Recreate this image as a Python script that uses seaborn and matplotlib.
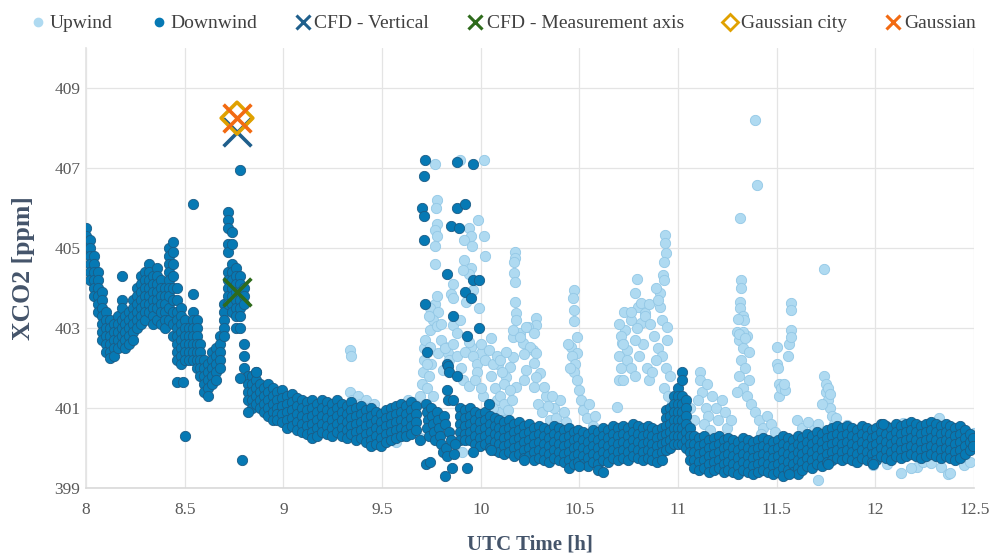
import matplotlib
matplotlib.use("Agg")
import matplotlib.pyplot as plt
from matplotlib.lines import Line2D
import seaborn as sns
import pandas as pd

# ---------------------------------------------------------------------------
# Downwind XCO2 [ppm]: (UTC hour, [values observed around that hour])
# ---------------------------------------------------------------------------
downwind_columns = [
    (8.00, [405.5, 405.3, 405.1, 404.9]),
    (8.02, [405.2, 405.0, 404.8, 404.6, 404.4, 404.2]),
    (8.04, [404.8, 404.6, 404.4, 404.2, 404.0, 403.8]),
    (8.06, [404.4, 404.2, 404.0, 403.8, 403.6, 403.4]),
    (8.08, [403.9, 403.7, 403.5, 403.3, 403.1, 402.9, 402.7]),
    (8.10, [403.4, 403.2, 403.0, 402.8, 402.6, 402.4]),
    (8.12, [403.2, 403.0, 402.8, 402.6, 402.4, 402.25]),
    (8.14, [403.1, 402.9, 402.7, 402.5, 402.3]),
    (8.16, [403.3, 403.1, 402.9, 402.7, 402.5]),
    (8.18, [403.7, 403.5, 403.2, 403.0, 402.8, 402.6]),
    (8.20, [403.3, 403.1, 402.9, 402.7, 402.5]),
    (8.22, [403.4, 403.2, 403.0, 402.8, 402.6]),
    (8.24, [403.7, 403.5, 403.3, 403.1, 402.9, 402.7]),
    (8.26, [404.0, 403.8, 403.6, 403.4, 403.2, 403.0]),
    (8.28, [404.3, 404.1, 403.9, 403.7, 403.5, 403.3, 403.1]),
    (8.30, [404.4, 404.2, 404.0, 403.8, 403.6, 403.4, 403.2]),
    (8.32, [404.6, 404.4, 404.2, 404.0, 403.8, 403.6, 403.4]),
    (8.34, [404.3, 404.1, 403.9, 403.7, 403.5, 403.3, 403.1]),
    (8.36, [404.5, 404.3, 404.1, 403.9, 403.7, 403.5, 403.2]),
    (8.38, [404.2, 404.0, 403.8, 403.6, 403.4, 403.1]),
    (8.40, [404.0, 403.8, 403.6, 403.4, 403.2, 403.0]),
    (8.42, [405.0, 404.8, 404.6, 404.4, 404.2, 404.0, 403.8, 403.5, 403.2]),
    (8.44, [405.15, 404.9, 404.6, 404.3, 404.0, 403.7, 403.4, 403.1, 402.8]),
    (8.46, [404.0, 403.7, 403.4, 403.2, 403.0, 402.8, 402.6, 402.4, 402.2]),
    (8.48, [403.5, 403.3, 403.1, 402.9, 402.7, 402.5, 402.3, 402.1]),
    (8.50, [403.2, 403.0, 402.8, 402.6, 402.4, 402.2]),
    (8.52, [403.0, 402.8, 402.6, 402.4, 402.2]),
    (8.54, [403.4, 403.2, 403.0, 402.8, 402.6, 402.4, 402.2]),
    (8.56, [403.2, 403.0, 402.8, 402.6, 402.4, 402.2, 402.0]),
    (8.58, [402.6, 402.4, 402.2, 402.0, 401.8]),
    (8.60, [402.2, 402.0, 401.8, 401.6, 401.4]),
    (8.62, [402.1, 401.9, 401.7, 401.5, 401.3]),
    (8.64, [402.4, 402.2, 402.0, 401.8, 401.6]),
    (8.66, [402.5, 402.3, 402.1, 401.9, 401.7]),
    (8.68, [402.8, 402.6, 402.4, 402.2, 402.0]),
    (8.70, [403.6, 403.4, 403.2, 403.0, 402.8]),
    (8.72, [405.9, 405.7, 405.5, 405.1, 404.9, 404.4, 404.2, 404.0, 403.8, 403.6]),
    (8.74, [405.4, 405.1, 404.6, 404.4, 404.2, 404.0, 403.8, 403.6, 403.4]),
    (8.76, [404.5, 404.3, 404.1, 403.9, 403.7, 403.5, 403.3, 403.0]),
    (8.78, [404.3, 404.1, 403.9, 403.7, 403.5, 403.3, 403.0]),
    (8.80, [404.0, 403.8, 403.6, 402.6, 402.3, 402.0]),
    (8.82, [401.8, 401.6, 401.4, 401.2]),
    (8.84, [401.8, 401.6, 401.4, 401.2, 401.0]),
    (8.86, [401.9, 401.7, 401.5, 401.3, 401.1]),
    (8.88, [401.6, 401.4, 401.2, 401.0]),
    (8.90, [401.5, 401.3, 401.1, 400.9]),
    (8.92, [401.6, 401.4, 401.2, 401.0, 400.8]),
    (8.945, [401.5, 401.3, 401.1, 400.9, 400.7]),
    (8.97, [401.4, 401.2, 401.0, 400.85, 400.7]),
    (8.995, [401.45, 401.25, 401.05, 400.85, 400.65]),
    (9.02, [401.3, 401.1, 400.9, 400.7, 400.5]),
    (9.045, [401.35, 401.15, 400.95, 400.75, 400.55]),
    (9.07, [401.25, 401.05, 400.85, 400.65, 400.45]),
    (9.095, [401.2, 401.0, 400.8, 400.6, 400.4]),
    (9.12, [401.15, 400.95, 400.75, 400.55, 400.35]),
    (9.145, [401.2, 401.0, 400.8, 400.6, 400.4, 400.25]),
    (9.17, [401.1, 400.9, 400.7, 400.5, 400.3]),
    (9.195, [401.2, 401.0, 400.8, 400.6, 400.4]),
    (9.22, [401.15, 400.95, 400.75, 400.55, 400.35]),
    (9.245, [401.1, 400.9, 400.7, 400.5, 400.3]),
    (9.27, [401.2, 401.0, 400.8, 400.6, 400.4]),
    (9.295, [401.1, 400.9, 400.7, 400.5, 400.3]),
    (9.32, [401.05, 400.85, 400.65, 400.45, 400.25]),
    (9.345, [401.15, 400.95, 400.75, 400.55, 400.35]),
    (9.37, [401.0, 400.8, 400.6, 400.4, 400.2]),
    (9.395, [401.05, 400.85, 400.65, 400.45, 400.25]),
    (9.42, [400.95, 400.75, 400.55, 400.35, 400.15]),
    (9.445, [401.0, 400.8, 400.6, 400.4, 400.2, 400.05]),
    (9.47, [400.9, 400.7, 400.5, 400.3, 400.1]),
    (9.495, [400.85, 400.65, 400.45, 400.25, 400.05]),
    (9.52, [400.95, 400.75, 400.55, 400.35, 400.15]),
    (9.545, [401.0, 400.8, 400.6, 400.4, 400.2]),
    (9.57, [401.05, 400.85, 400.65, 400.45, 400.25]),
    (9.595, [401.1, 400.9, 400.7, 400.5, 400.3]),
    (9.62, [401.05, 400.85, 400.65, 400.45, 400.3]),
    (9.645, [401.15, 400.95, 400.75, 400.55, 400.35]),
    (9.67, [401.05, 400.85, 400.65, 400.45]),
    (9.895, [401.0, 400.8, 400.6, 400.4, 400.2]),
    (9.92, [400.95, 400.75, 400.55, 400.35, 400.2]),
    (9.945, [401.0, 400.8, 400.6, 400.4, 400.2]),
    (9.97, [400.9, 400.7, 400.5, 400.3, 400.1]),
    (9.995, [400.85, 400.65, 400.45, 400.25, 400.05]),
    (10.02, [400.9, 400.7, 400.5, 400.3, 400.1]),
    (10.045, [400.8, 400.6, 400.4, 400.2, 400.0]),
    (10.07, [400.75, 400.55, 400.35, 400.15, 399.95]),
    (10.095, [400.7, 400.5, 400.3, 400.1, 399.9]),
    (10.12, [400.65, 400.45, 400.25, 400.05, 399.85]),
    (10.145, [400.7, 400.5, 400.3, 400.1, 399.9]),
    (10.17, [400.6, 400.4, 400.2, 400.0, 399.8]),
    (10.195, [400.65, 400.45, 400.25, 400.05, 399.85]),
    (10.22, [400.55, 400.35, 400.15, 399.95, 399.75]),
    (10.245, [400.6, 400.4, 400.2, 400.0, 399.8]),
    (10.27, [400.5, 400.3, 400.1, 399.9, 399.7]),
    (10.295, [400.55, 400.35, 400.15, 399.95, 399.75]),
    (10.32, [400.5, 400.3, 400.1, 399.9, 399.7]),
    (10.345, [400.45, 400.25, 400.05, 399.85, 399.65]),
    (10.37, [400.55, 400.35, 400.15, 399.95, 399.75]),
    (10.395, [400.5, 400.3, 400.1, 399.9, 399.7]),
    (10.42, [400.45, 400.25, 400.05, 399.85, 399.65]),
    (10.445, [400.5, 400.3, 400.1, 399.9, 399.7, 399.5]),
    (10.47, [400.4, 400.2, 400.0, 399.8, 399.6]),
    (10.495, [400.45, 400.25, 400.05, 399.85, 399.65]),
    (10.52, [400.4, 400.2, 400.0, 399.8, 399.6]),
    (10.545, [400.35, 400.15, 399.95, 399.75, 399.55]),
    (10.57, [400.45, 400.25, 400.05, 399.85, 399.65]),
    (10.595, [400.4, 400.2, 400.0, 399.8, 399.6, 399.45]),
    (10.62, [400.5, 400.3, 400.1, 399.9, 399.7]),
    (10.645, [400.45, 400.25, 400.05, 399.85, 399.65]),
    (10.67, [400.55, 400.35, 400.15, 399.95, 399.75]),
    (10.695, [400.5, 400.3, 400.1, 399.9, 399.7]),
    (10.72, [400.55, 400.35, 400.15, 399.95, 399.75]),
    (10.745, [400.5, 400.3, 400.1, 399.9, 399.7]),
    (10.77, [400.6, 400.4, 400.2, 400.0, 399.8]),
    (10.795, [400.55, 400.35, 400.15, 399.95, 399.75]),
    (10.82, [400.5, 400.3, 400.1, 399.9, 399.7]),
    (10.845, [400.55, 400.35, 400.15, 399.95, 399.75]),
    (10.87, [400.5, 400.3, 400.1, 399.9, 399.7]),
    (10.895, [400.45, 400.25, 400.05, 399.85, 399.65]),
    (10.92, [400.5, 400.3, 400.1, 399.9, 399.7]),
    (10.94, [400.95, 400.75, 400.55, 400.35, 400.15, 399.95]),
    (10.96, [401.0, 400.8, 400.6, 400.4, 400.2, 400.0]),
    (10.98, [401.3, 401.1, 400.9, 400.7, 400.5, 400.3, 400.1]),
    (11.00, [401.5, 401.3, 401.1, 400.9, 400.7, 400.5, 400.3, 400.1]),
    (11.02, [401.9, 401.7, 401.3, 401.1, 400.9, 400.7, 400.5, 400.3, 400.1]),
    (11.04, [401.2, 401.0, 400.8, 400.6, 400.4, 400.2, 400.0]),
    (11.06, [400.5, 400.3, 400.1, 399.9, 399.7]),
    (11.08, [400.3, 400.1, 399.9, 399.7, 399.5]),
    (11.105, [400.25, 400.05, 399.85, 399.65, 399.45]),
    (11.13, [400.3, 400.1, 399.9, 399.7, 399.5]),
    (11.155, [400.2, 400.0, 399.8, 399.6, 399.4]),
    (11.18, [400.25, 400.05, 399.85, 399.65, 399.45]),
    (11.205, [400.3, 400.1, 399.9, 399.7, 399.5]),
    (11.23, [400.2, 400.0, 399.8, 399.6, 399.4]),
    (11.255, [400.25, 400.05, 399.85, 399.65, 399.45]),
    (11.28, [400.2, 400.0, 399.8, 399.6, 399.4]),
    (11.305, [400.15, 399.95, 399.75, 399.55, 399.35]),
    (11.33, [400.25, 400.05, 399.85, 399.65, 399.45]),
    (11.355, [400.2, 400.0, 399.8, 399.6, 399.4]),
    (11.38, [400.15, 399.95, 399.75, 399.55, 399.35]),
    (11.405, [400.2, 400.0, 399.8, 399.6, 399.4]),
    (11.43, [400.25, 400.05, 399.85, 399.65, 399.45]),
    (11.455, [400.2, 400.0, 399.8, 399.6, 399.4]),
    (11.48, [400.15, 399.95, 399.75, 399.55, 399.35]),
    (11.505, [400.2, 400.0, 399.8, 399.6, 399.4]),
    (11.53, [400.3, 400.1, 399.9, 399.7, 399.5, 399.3]),
    (11.555, [400.25, 400.05, 399.85, 399.65, 399.45]),
    (11.58, [400.2, 400.0, 399.8, 399.6, 399.4]),
    (11.605, [400.3, 400.1, 399.9, 399.7, 399.5, 399.35]),
    (11.63, [400.25, 400.05, 399.85, 399.65, 399.45]),
    (11.655, [400.35, 400.15, 399.95, 399.75, 399.55]),
    (11.68, [400.3, 400.1, 399.9, 399.7, 399.5]),
    (11.705, [400.4, 400.2, 400.0, 399.8, 399.6]),
    (11.73, [400.35, 400.15, 399.95, 399.75, 399.55]),
    (11.755, [400.45, 400.25, 400.05, 399.85, 399.65]),
    (11.78, [400.5, 400.3, 400.1, 399.9, 399.7]),
    (11.805, [400.55, 400.35, 400.15, 399.95, 399.75]),
    (11.83, [400.5, 400.3, 400.1, 399.9, 399.7]),
    (11.855, [400.55, 400.35, 400.15, 399.95, 399.75]),
    (11.88, [400.5, 400.3, 400.1, 399.9, 399.7]),
    (11.905, [400.45, 400.25, 400.05, 399.85, 399.65]),
    (11.93, [400.55, 400.35, 400.15, 399.95, 399.75]),
    (11.955, [400.5, 400.3, 400.1, 399.9, 399.7]),
    (11.98, [400.45, 400.25, 400.05, 399.85, 399.65]),
    (12.005, [400.5, 400.3, 400.1, 399.9, 399.7]),
    (12.03, [400.6, 400.4, 400.2, 400.0, 399.8]),
    (12.055, [400.55, 400.35, 400.15, 399.95, 399.75]),
    (12.08, [400.5, 400.3, 400.1, 399.9, 399.7]),
    (12.105, [400.6, 400.4, 400.2, 400.0, 399.8]),
    (12.13, [400.55, 400.35, 400.15, 399.95, 399.75]),
    (12.155, [400.6, 400.4, 400.2, 400.0, 399.8]),
    (12.18, [400.65, 400.45, 400.25, 400.05, 399.85]),
    (12.205, [400.6, 400.4, 400.2, 400.0, 399.8]),
    (12.23, [400.55, 400.35, 400.15, 399.95, 399.75]),
    (12.255, [400.6, 400.4, 400.2, 400.0, 399.8]),
    (12.28, [400.65, 400.45, 400.25, 400.05, 399.85]),
    (12.305, [400.6, 400.4, 400.2, 400.0, 399.8]),
    (12.33, [400.55, 400.35, 400.15, 399.95, 399.75]),
    (12.355, [400.6, 400.4, 400.2, 400.0, 399.8]),
    (12.38, [400.55, 400.35, 400.15, 399.95, 399.75]),
    (12.405, [400.5, 400.3, 400.1, 399.9, 399.7]),
    (12.43, [400.55, 400.35, 400.15, 399.95, 399.75]),
    (12.455, [400.45, 400.25, 400.05, 399.85]),
    (12.48, [400.35, 400.15, 399.95]),
    (12.495, [400.25, 400.05]),
]

# Isolated downwind samples (spikes, dropouts, scattered readings)
downwind_points = [
    (8.18, 404.3), (8.46, 401.65), (8.49, 401.65), (8.50, 400.3),
    (8.54, 403.85), (8.54, 406.1), (8.78, 406.95), (8.78, 401.75),
    (8.79, 399.7), (8.82, 400.9), (8.86, 401.9),
    (9.69, 400.2),
    (9.725, 401.1), (9.73, 400.9), (9.735, 400.7), (9.73, 400.5), (9.74, 400.3),
    (9.725, 399.6), (9.745, 399.65), (9.75, 401.0), (9.755, 400.8),
    (9.76, 400.6), (9.765, 400.4), (9.77, 400.2), (9.78, 400.9),
    (9.785, 400.7), (9.79, 400.5), (9.795, 400.3), (9.80, 400.1),
    (9.81, 399.9), (9.815, 400.8), (9.82, 400.6), (9.825, 400.0),
    (9.83, 399.8), (9.82, 399.3), (9.84, 400.4), (9.85, 400.2),
    (9.856, 399.5), (9.865, 399.85), (9.87, 400.1), (9.93, 399.5),
    (9.96, 399.9),
    (9.72, 407.2), (9.71, 406.8), (9.88, 407.15), (9.96, 407.1),
    (9.70, 406.0), (9.71, 405.8), (9.88, 406.0), (9.92, 406.1),
    (9.85, 405.55), (9.89, 405.5), (9.71, 405.2), (9.83, 404.35),
    (9.96, 404.2), (9.99, 404.2), (9.92, 403.9), (9.95, 403.75),
    (9.72, 403.6), (9.86, 403.3), (9.99, 403.0), (9.93, 402.8),
    (9.73, 402.4), (9.83, 402.1), (9.835, 402.05), (9.84, 401.9),
    (9.88, 401.8), (9.83, 401.45), (9.835, 401.2), (9.86, 401.2),
    (10.04, 401.1), (10.05, 399.95),
    (10.22, 399.7), (10.50, 399.55), (10.62, 399.4),
    (11.56, 399.35), (11.76, 399.6), (11.99, 399.6), (12.04, 400.6),
]

# ---------------------------------------------------------------------------
# Upwind XCO2 [ppm]: (UTC hour, value)
# ---------------------------------------------------------------------------
upwind_points = [
    # 9.3 - 9.7 h
    (9.34, 402.45), (9.345, 402.3),
    (9.34, 401.4), (9.35, 401.2), (9.36, 401.0), (9.38, 401.3), (9.39, 401.1),
    (9.40, 400.9), (9.42, 401.2), (9.43, 401.0), (9.45, 400.9), (9.46, 401.1),
    (9.57, 400.15), (9.69, 400.25), (9.63, 401.2), (9.66, 401.15), (9.68, 401.1),
    (9.69, 401.3), (9.70, 401.6), (9.705, 401.9), (9.71, 402.2), (9.715, 402.5),
    (9.72, 402.7), (9.73, 401.5), (9.74, 401.8), (9.75, 402.1), (9.76, 401.3),
    (9.905, 399.9),
    # 9.7 - 10.1 h plume
    (9.77, 407.1), (9.895, 407.2), (10.015, 407.2),
    (9.78, 406.2), (9.775, 406.0), (9.78, 405.6), (9.77, 405.45), (9.78, 405.3),
    (9.77, 405.05), (9.985, 405.7), (10.015, 405.3), (9.94, 405.5), (9.95, 405.3),
    (9.915, 405.2), (9.955, 405.05), (10.02, 404.8), (9.77, 404.6), (9.915, 404.7),
    (9.95, 404.5), (9.94, 404.35), (9.91, 404.45), (9.86, 404.1), (9.85, 403.85),
    (9.77, 403.6), (9.745, 403.5), (9.785, 403.4), (9.86, 403.75), (9.96, 403.95),
    (9.925, 403.65), (9.99, 403.5), (9.76, 403.2), (9.745, 402.95), (9.78, 403.05),
    (9.80, 403.1), (9.86, 403.07), (9.895, 403.2), (9.88, 402.87), (9.82, 402.53),
    (9.835, 402.37), (9.785, 402.37), (9.745, 402.53), (9.73, 402.1), (9.95, 402.53),
    (10.0, 402.37), (10.05, 402.75), (10.085, 402.1), (9.78, 403.8), (9.74, 403.3),
    (9.80, 402.7), (9.82, 402.5), (9.84, 402.2), (9.86, 402.6), (9.88, 402.3),
    (9.90, 402.0), (9.92, 402.4), (9.81, 401.95), (9.94, 402.65), (9.96, 402.3),
    (9.98, 402.1), (10.0, 402.6), (10.02, 402.2), (10.04, 402.45), (10.06, 402.1),
    (10.08, 402.3), (9.98, 401.9), (10.01, 401.3), (9.91, 401.7), (9.94, 401.55),
    (9.97, 401.7), (10.0, 401.5), (10.05, 401.8), (10.07, 401.5), (10.08, 401.2),
    (10.10, 400.9), (10.12, 400.7), (10.06, 401.0),
    # 10.1 - 10.6 h
    (10.175, 404.9), (10.175, 404.75), (10.17, 404.65), (10.17, 404.37),
    (10.175, 404.14), (10.175, 403.65), (10.18, 403.37), (10.18, 403.2),
    (10.28, 403.24), (10.28, 403.08), (10.24, 403.03), (10.20, 402.87),
    (10.215, 402.62), (10.265, 402.45), (10.165, 402.78),
    (10.165, 402.95), (10.20, 402.78), (10.23, 403.03), (10.27, 402.87),
    (10.25, 402.53), (10.28, 402.37), (10.22, 402.35), (10.27, 402.12),
    (10.23, 401.95), (10.30, 401.87), (10.165, 402.28), (10.15, 402.03),
    (10.22, 401.7), (10.27, 401.53), (10.18, 401.53), (10.13, 401.78),
    (10.28, 401.78), (10.10, 402.2), (10.11, 401.9), (10.12, 401.6),
    (10.10, 401.3), (10.12, 401.1), (10.14, 400.95), (10.16, 401.2),
    (10.15, 401.45), (10.13, 402.4),
    (10.29, 401.1), (10.31, 400.9), (10.33, 401.3), (10.35, 400.7),
    (10.37, 401.0), (10.38, 400.75), (10.40, 401.2), (10.42, 400.9),
    (10.43, 400.65), (10.34, 401.05), (10.36, 401.3), (10.32, 401.53),
    (10.47, 403.95), (10.465, 403.75), (10.47, 403.45), (10.47, 403.17),
    (10.49, 402.78), (10.455, 402.53), (10.49, 402.37),
    (10.44, 402.6), (10.46, 402.3), (10.48, 402.1), (10.47, 401.9), (10.45, 402.0),
    (10.49, 401.7), (10.50, 401.45), (10.51, 401.2), (10.52, 400.95),
    (10.54, 400.75), (10.55, 401.1), (10.57, 400.55), (10.58, 400.8), (10.59, 400.45),
    # 10.6 - 11.0 h
    (10.69, 401.03), (10.70, 401.7),
    (10.79, 404.22), (10.78, 403.87), (10.795, 403.53), (10.81, 403.62),
    (10.83, 403.37), (10.81, 403.12), (10.76, 403.2), (10.73, 402.95),
    (10.715, 402.62), (10.74, 402.45), (10.725, 403.4),
    (10.70, 403.1), (10.71, 402.8), (10.72, 402.6), (10.70, 402.3),
    (10.71, 402.0), (10.72, 401.7), (10.74, 402.2), (10.76, 402.0),
    (10.78, 401.8), (10.80, 402.3), (10.82, 402.6), (10.84, 402.0),
    (10.85, 401.7), (10.78, 402.7), (10.76, 403.4), (10.79, 403.0),
    (10.83, 403.3), (10.85, 403.6),
    (10.935, 405.32), (10.935, 405.12), (10.94, 404.88), (10.93, 404.66),
    (10.925, 404.33), (10.93, 404.2), (10.91, 403.87), (10.91, 403.53),
    (10.92, 403.2), (10.945, 403.03), (10.945, 402.7), (10.89, 404.0), (10.90, 403.7),
    (10.86, 403.1), (10.88, 402.8), (10.90, 402.5), (10.92, 402.3),
    (10.94, 402.0), (10.96, 401.8), (10.93, 401.5), (10.95, 401.3),
    (10.97, 401.1), (10.89, 402.2), (10.87, 401.9),
    # 11.0 - 11.4 h
    (11.06, 401.0), (11.08, 400.7), (11.11, 401.9), (11.11, 401.7),
    (11.12, 401.4), (11.10, 401.2), (11.14, 401.0), (11.15, 400.8),
    (11.13, 400.6), (11.146, 401.6), (11.17, 401.3), (11.19, 401.0),
    (11.20, 400.7), (11.22, 401.2), (11.24, 400.9), (11.25, 400.5),
    (11.16, 400.45), (11.27, 400.7),
    (11.30, 402.9), (11.31, 402.7), (11.33, 402.5), (11.35, 402.8),
    (11.36, 402.4), (11.32, 402.2), (11.34, 402.0), (11.31, 401.8),
    (11.36, 401.7), (11.33, 401.5), (11.35, 401.3), (11.37, 401.1), (11.30, 401.4),
    (11.32, 404.2), (11.32, 404.0), (11.315, 403.65), (11.315, 403.5),
    (11.33, 403.3), (11.335, 403.2), (11.305, 403.22), (11.33, 402.9),
    (11.31, 402.85), (11.34, 402.75),
    (11.315, 405.74), (11.40, 406.57), (11.39, 408.2),
    # 11.4 - 11.8 h
    (11.39, 400.9), (11.41, 400.7), (11.43, 400.5), (11.45, 400.8),
    (11.47, 400.6), (11.49, 400.4), (11.42, 400.35),
    (11.50, 402.53), (11.50, 402.1), (11.505, 402.0), (11.51, 401.6),
    (11.51, 401.3), (11.52, 401.5), (11.54, 401.45), (11.535, 401.6),
    (11.56, 402.6), (11.555, 402.3),
    (11.57, 403.62), (11.57, 403.45), (11.57, 402.95), (11.57, 402.78),
    (11.60, 400.7), (11.63, 400.5), (11.66, 400.65), (11.69, 400.45), (11.71, 400.6),
    (11.74, 404.475),
    (11.74, 401.8), (11.75, 401.6), (11.75, 401.4), (11.76, 401.2),
    (11.77, 401.0), (11.78, 400.8), (11.76, 401.5), (11.73, 401.1),
    (11.77, 401.35), (11.79, 400.6), (11.80, 400.75),
    # 11.7 - 12.5 h, around and below the downwind band
    (11.71, 399.2), (11.855, 400.57), (11.90, 399.66), (11.99, 399.58),
    (12.04, 400.53), (12.13, 399.38), (12.14, 400.62), (12.21, 399.53),
    (12.24, 399.66), (12.32, 400.74), (12.33, 399.53), (12.37, 399.35),
    (12.38, 399.37), (12.41, 400.45), (12.45, 399.58), (12.48, 399.66),
    (12.50, 400.37), (12.06, 399.6), (12.18, 399.5), (12.28, 399.62),
]

# Model estimates at the plume crossing
model_time = 8.765
cfd_vertical = 407.9
cfd_measurement_axis = 403.9
gaussian_city = 408.25
gaussian = 408.25

x_ticks = [8, 8.5, 9, 9.5, 10, 10.5, 11, 11.5, 12, 12.5]
x_tick_labels = ["8", "8.5", "9", "9.5", "10", "10.5", "11", "11.5", "12", "12.5"]
y_ticks = [399, 401, 403, 405, 407, 409]

# ---------------------------------------------------------------------------
down_t, down_v = [], []
for t, values in downwind_columns:
    for v in values:
        down_t.append(t)
        down_v.append(v)
for t, v in downwind_points:
    down_t.append(t)
    down_v.append(v)

df = pd.concat([
    pd.DataFrame({"time": [p[0] for p in upwind_points],
                  "xco2": [p[1] for p in upwind_points],
                  "side": "Upwind"}),
    pd.DataFrame({"time": down_t, "xco2": down_v, "side": "Downwind"}),
], ignore_index=True)

sns.set_theme(style="white")
plt.rcParams["font.family"] = ["Liberation Serif", "DejaVu Serif"]

UP_FACE, UP_EDGE = "#AFDAF1", "#93C8E6"
DOWN_FACE, DOWN_EDGE = "#0679B4", "#1B5C86"
CFD_V = "#1F5F8C"
CFD_M = "#2E6B1C"
GAUSS_CITY = "#E0A100"
GAUSS = "#F26A12"
LABEL_C = "#44546A"
TICK_C = "#595959"

fig = plt.figure(figsize=(9.91, 5.53), dpi=100)
ax = fig.add_axes([0.0868, 0.1175, 0.8962, 0.7955])

sns.scatterplot(data=df[df.side == "Upwind"], x="time", y="xco2", ax=ax,
                color=UP_FACE, edgecolor=UP_EDGE, linewidth=0.6, s=55,
                legend=False, zorder=2)
sns.scatterplot(data=df[df.side == "Downwind"], x="time", y="xco2", ax=ax,
                color=DOWN_FACE, edgecolor=DOWN_EDGE, linewidth=0.6, s=55,
                legend=False, zorder=3)

ax.scatter([model_time], [cfd_vertical], marker="x", s=400, color=CFD_V,
           linewidths=2.6, zorder=5)
ax.scatter([model_time], [cfd_measurement_axis], marker="x", s=400, color=CFD_M,
           linewidths=2.6, zorder=5)
ax.scatter([model_time], [gaussian_city], marker="D", s=260, facecolors="none",
           edgecolors=GAUSS_CITY, linewidths=2.6, zorder=6)
ax.scatter([model_time], [gaussian], marker="x", s=400, color=GAUSS,
           linewidths=2.6, zorder=7)

ax.set_xlim(8, 12.5)
ax.set_ylim(399, 410)
ax.set_xticks(x_ticks)
ax.set_xticklabels(x_tick_labels)
ax.set_yticks(y_ticks)
ax.grid(True, color="#E4E4E4", linewidth=0.9)
ax.set_axisbelow(True)
for side in ["top", "right"]:
    ax.spines[side].set_visible(False)
ax.spines["left"].set_color("#E4E4E4")
ax.spines["bottom"].set_color("#D9D9D9")
ax.spines["bottom"].set_linewidth(1.2)
ax.tick_params(axis="x", length=0, labelsize=12.5, colors=TICK_C, pad=10)
ax.tick_params(axis="y", length=0, labelsize=12.5, colors=TICK_C, pad=4)

ax.set_xlabel("UTC Time [h]", fontsize=15, fontweight="bold", color=LABEL_C,
              labelpad=12)
ax.set_ylabel("XCO2 [ppm]", fontsize=18.5, fontweight="bold", color=LABEL_C,
              labelpad=14)

handles = [
    Line2D([], [], ls="none", marker="o", ms=6, mfc=UP_FACE, mec=UP_FACE),
    Line2D([], [], ls="none", marker="o", ms=6, mfc=DOWN_FACE, mec=DOWN_FACE),
    Line2D([], [], ls="none", marker="x", ms=10, mew=2.2, color=CFD_V),
    Line2D([], [], ls="none", marker="x", ms=10, mew=2.2, color=CFD_M),
    Line2D([], [], ls="none", marker="D", ms=8, mew=2.0, mfc="none", mec=GAUSS_CITY),
    Line2D([], [], ls="none", marker="x", ms=10, mew=2.2, color=GAUSS),
]
labels = ["Upwind", "Downwind", "CFD - Vertical", "CFD - Measurement axis",
          "Gaussian city", "Gaussian"]
leg = fig.legend(handles, labels, loc="upper center", bbox_to_anchor=(0.508, 1.005),
                 ncol=6, frameon=False, fontsize=14, handlelength=0.8,
                 handletextpad=0.2, columnspacing=1.95)
for txt in leg.get_texts():
    txt.set_color("#404040")

fig.savefig("out.png", dpi=100)
